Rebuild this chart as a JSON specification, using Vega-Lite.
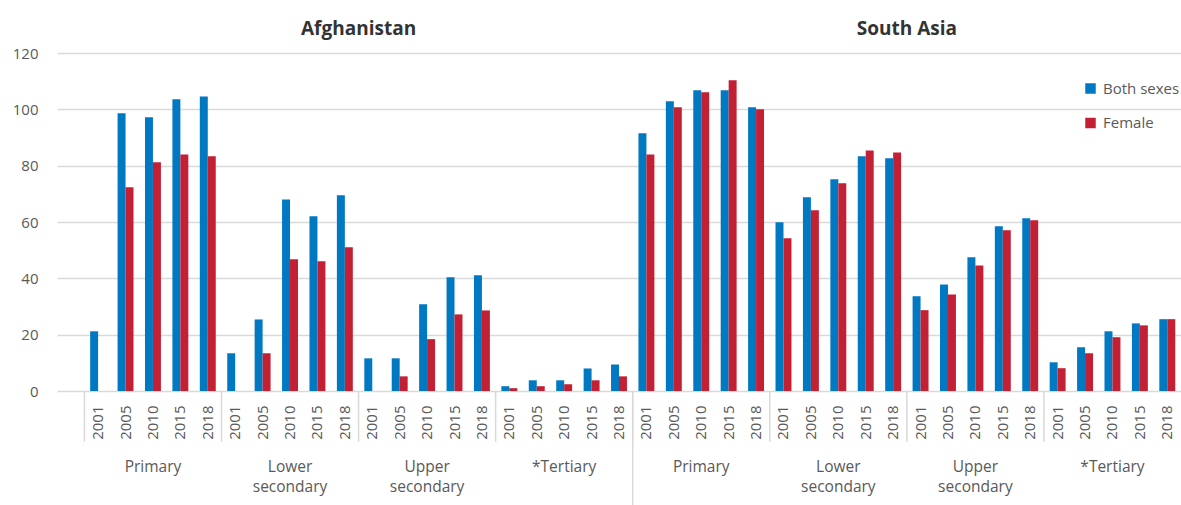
{
  "$schema": "https://vega.github.io/schema/vega-lite/v6.json",
  "width": 1124,
  "height": 338,
  "autosize": {"type": "none"},
  "padding": {"left": 57, "top": 53, "right": 0, "bottom": 114},
  "background": "white",
  "config": {"view": {"stroke": null}, "font": "Open Sans"},
  "datasets": {
    "bars": [
      {"cat": "Afghanistan|Primary|2001", "sex": "Both sexes", "value": 21.2},
      {"cat": "Afghanistan|Primary|2005", "sex": "Both sexes", "value": 98.6},
      {"cat": "Afghanistan|Primary|2005", "sex": "Female", "value": 72.3},
      {"cat": "Afghanistan|Primary|2010", "sex": "Both sexes", "value": 97.2},
      {"cat": "Afghanistan|Primary|2010", "sex": "Female", "value": 81.2},
      {"cat": "Afghanistan|Primary|2015", "sex": "Both sexes", "value": 103.6},
      {"cat": "Afghanistan|Primary|2015", "sex": "Female", "value": 84.0},
      {"cat": "Afghanistan|Primary|2018", "sex": "Both sexes", "value": 104.6},
      {"cat": "Afghanistan|Primary|2018", "sex": "Female", "value": 83.3},
      {"cat": "Afghanistan|Lower secondary|2001", "sex": "Both sexes", "value": 13.4},
      {"cat": "Afghanistan|Lower secondary|2005", "sex": "Both sexes", "value": 25.4},
      {"cat": "Afghanistan|Lower secondary|2005", "sex": "Female", "value": 13.4},
      {"cat": "Afghanistan|Lower secondary|2010", "sex": "Both sexes", "value": 68.0},
      {"cat": "Afghanistan|Lower secondary|2010", "sex": "Female", "value": 46.8},
      {"cat": "Afghanistan|Lower secondary|2015", "sex": "Both sexes", "value": 62.0},
      {"cat": "Afghanistan|Lower secondary|2015", "sex": "Female", "value": 46.1},
      {"cat": "Afghanistan|Lower secondary|2018", "sex": "Both sexes", "value": 69.5},
      {"cat": "Afghanistan|Lower secondary|2018", "sex": "Female", "value": 51.0},
      {"cat": "Afghanistan|Upper secondary|2001", "sex": "Both sexes", "value": 11.6},
      {"cat": "Afghanistan|Upper secondary|2005", "sex": "Both sexes", "value": 11.6},
      {"cat": "Afghanistan|Upper secondary|2005", "sex": "Female", "value": 5.2},
      {"cat": "Afghanistan|Upper secondary|2010", "sex": "Both sexes", "value": 30.8},
      {"cat": "Afghanistan|Upper secondary|2010", "sex": "Female", "value": 18.4},
      {"cat": "Afghanistan|Upper secondary|2015", "sex": "Both sexes", "value": 40.4},
      {"cat": "Afghanistan|Upper secondary|2015", "sex": "Female", "value": 27.2},
      {"cat": "Afghanistan|Upper secondary|2018", "sex": "Both sexes", "value": 41.1},
      {"cat": "Afghanistan|Upper secondary|2018", "sex": "Female", "value": 28.6},
      {"cat": "Afghanistan|*Tertiary|2001", "sex": "Both sexes", "value": 1.7},
      {"cat": "Afghanistan|*Tertiary|2001", "sex": "Female", "value": 1.0},
      {"cat": "Afghanistan|*Tertiary|2005", "sex": "Both sexes", "value": 3.8},
      {"cat": "Afghanistan|*Tertiary|2005", "sex": "Female", "value": 1.7},
      {"cat": "Afghanistan|*Tertiary|2010", "sex": "Both sexes", "value": 3.8},
      {"cat": "Afghanistan|*Tertiary|2010", "sex": "Female", "value": 2.4},
      {"cat": "Afghanistan|*Tertiary|2015", "sex": "Both sexes", "value": 8.0},
      {"cat": "Afghanistan|*Tertiary|2015", "sex": "Female", "value": 3.8},
      {"cat": "Afghanistan|*Tertiary|2018", "sex": "Both sexes", "value": 9.4},
      {"cat": "Afghanistan|*Tertiary|2018", "sex": "Female", "value": 5.2},
      {"cat": "South Asia|Primary|2001", "sex": "Both sexes", "value": 91.5},
      {"cat": "South Asia|Primary|2001", "sex": "Female", "value": 84.0},
      {"cat": "South Asia|Primary|2005", "sex": "Both sexes", "value": 102.9},
      {"cat": "South Asia|Primary|2005", "sex": "Female", "value": 100.7},
      {"cat": "South Asia|Primary|2010", "sex": "Both sexes", "value": 106.8},
      {"cat": "South Asia|Primary|2010", "sex": "Female", "value": 106.1},
      {"cat": "South Asia|Primary|2015", "sex": "Both sexes", "value": 106.8},
      {"cat": "South Asia|Primary|2015", "sex": "Female", "value": 110.3},
      {"cat": "South Asia|Primary|2018", "sex": "Both sexes", "value": 100.7},
      {"cat": "South Asia|Primary|2018", "sex": "Female", "value": 100.0},
      {"cat": "South Asia|Lower secondary|2001", "sex": "Both sexes", "value": 59.9},
      {"cat": "South Asia|Lower secondary|2001", "sex": "Female", "value": 54.2},
      {"cat": "South Asia|Lower secondary|2005", "sex": "Both sexes", "value": 68.8},
      {"cat": "South Asia|Lower secondary|2005", "sex": "Female", "value": 64.2},
      {"cat": "South Asia|Lower secondary|2010", "sex": "Both sexes", "value": 75.2},
      {"cat": "South Asia|Lower secondary|2010", "sex": "Female", "value": 73.8},
      {"cat": "South Asia|Lower secondary|2015", "sex": "Both sexes", "value": 83.3},
      {"cat": "South Asia|Lower secondary|2015", "sex": "Female", "value": 85.4},
      {"cat": "South Asia|Lower secondary|2018", "sex": "Both sexes", "value": 82.6},
      {"cat": "South Asia|Lower secondary|2018", "sex": "Female", "value": 84.7},
      {"cat": "South Asia|Upper secondary|2001", "sex": "Both sexes", "value": 33.6},
      {"cat": "South Asia|Upper secondary|2001", "sex": "Female", "value": 28.7},
      {"cat": "South Asia|Upper secondary|2005", "sex": "Both sexes", "value": 37.8},
      {"cat": "South Asia|Upper secondary|2005", "sex": "Female", "value": 34.3},
      {"cat": "South Asia|Upper secondary|2010", "sex": "Both sexes", "value": 47.5},
      {"cat": "South Asia|Upper secondary|2010", "sex": "Female", "value": 44.6},
      {"cat": "South Asia|Upper secondary|2015", "sex": "Both sexes", "value": 58.5},
      {"cat": "South Asia|Upper secondary|2015", "sex": "Female", "value": 57.1},
      {"cat": "South Asia|Upper secondary|2018", "sex": "Both sexes", "value": 61.3},
      {"cat": "South Asia|Upper secondary|2018", "sex": "Female", "value": 60.6},
      {"cat": "South Asia|*Tertiary|2001", "sex": "Both sexes", "value": 10.2},
      {"cat": "South Asia|*Tertiary|2001", "sex": "Female", "value": 8.1},
      {"cat": "South Asia|*Tertiary|2005", "sex": "Both sexes", "value": 15.5},
      {"cat": "South Asia|*Tertiary|2005", "sex": "Female", "value": 13.4},
      {"cat": "South Asia|*Tertiary|2010", "sex": "Both sexes", "value": 21.2},
      {"cat": "South Asia|*Tertiary|2010", "sex": "Female", "value": 19.1},
      {"cat": "South Asia|*Tertiary|2015", "sex": "Both sexes", "value": 24.0},
      {"cat": "South Asia|*Tertiary|2015", "sex": "Female", "value": 23.3},
      {"cat": "South Asia|*Tertiary|2018", "sex": "Both sexes", "value": 25.5},
      {"cat": "South Asia|*Tertiary|2018", "sex": "Female", "value": 25.5}
    ],
    "groups": [
      {"line1": "Primary", "line2": "", "first": "Afghanistan|Primary|2001", "mid": "Afghanistan|Primary|2010"},
      {"line1": "Lower", "line2": "secondary", "first": "Afghanistan|Lower secondary|2001", "mid": "Afghanistan|Lower secondary|2010"},
      {"line1": "Upper", "line2": "secondary", "first": "Afghanistan|Upper secondary|2001", "mid": "Afghanistan|Upper secondary|2010"},
      {"line1": "*Tertiary", "line2": "", "first": "Afghanistan|*Tertiary|2001", "mid": "Afghanistan|*Tertiary|2010"},
      {"line1": "Primary", "line2": "", "first": "South Asia|Primary|2001", "mid": "South Asia|Primary|2010"},
      {"line1": "Lower", "line2": "secondary", "first": "South Asia|Lower secondary|2001", "mid": "South Asia|Lower secondary|2010"},
      {"line1": "Upper", "line2": "secondary", "first": "South Asia|Upper secondary|2001", "mid": "South Asia|Upper secondary|2010"},
      {"line1": "*Tertiary", "line2": "", "first": "South Asia|*Tertiary|2001", "mid": "South Asia|*Tertiary|2010"}
    ],
    "countries": [
      {"country": "Afghanistan", "anchor": "Afghanistan|Lower secondary|2018"},
      {"country": "South Asia", "anchor": "South Asia|Lower secondary|2018"}
    ],
    "dividers": [
      {"first": "South Asia|Primary|2001"}
    ]
  },
  "layer": [
    {
      "data": {"name": "bars"},
      "mark": {"type": "bar"},
      "encoding": {
        "x": {
          "field": "cat",
          "type": "nominal",
          "scale": {
            "domain": [
              "Afghanistan|Primary|2001", "Afghanistan|Primary|2005", "Afghanistan|Primary|2010", "Afghanistan|Primary|2015", "Afghanistan|Primary|2018",
              "Afghanistan|Lower secondary|2001", "Afghanistan|Lower secondary|2005", "Afghanistan|Lower secondary|2010", "Afghanistan|Lower secondary|2015", "Afghanistan|Lower secondary|2018",
              "Afghanistan|Upper secondary|2001", "Afghanistan|Upper secondary|2005", "Afghanistan|Upper secondary|2010", "Afghanistan|Upper secondary|2015", "Afghanistan|Upper secondary|2018",
              "Afghanistan|*Tertiary|2001", "Afghanistan|*Tertiary|2005", "Afghanistan|*Tertiary|2010", "Afghanistan|*Tertiary|2015", "Afghanistan|*Tertiary|2018",
              "South Asia|Primary|2001", "South Asia|Primary|2005", "South Asia|Primary|2010", "South Asia|Primary|2015", "South Asia|Primary|2018",
              "South Asia|Lower secondary|2001", "South Asia|Lower secondary|2005", "South Asia|Lower secondary|2010", "South Asia|Lower secondary|2015", "South Asia|Lower secondary|2018",
              "South Asia|Upper secondary|2001", "South Asia|Upper secondary|2005", "South Asia|Upper secondary|2010", "South Asia|Upper secondary|2015", "South Asia|Upper secondary|2018",
              "South Asia|*Tertiary|2001", "South Asia|*Tertiary|2005", "South Asia|*Tertiary|2010", "South Asia|*Tertiary|2015", "South Asia|*Tertiary|2018"
            ],
            "paddingInner": 0,
            "paddingOuter": 0.5,
            "align": 1
          },
          "axis": {
            "title": null,
            "labelAngle": 270,
            "labelExpr": "split(datum.label, '|')[2]",
            "labelFont": "Open Sans",
            "labelFontSize": 15,
            "labelColor": "#595959",
            "labelPadding": 14,
            "labelOverlap": false,
            "ticks": false,
            "domain": false,
            "grid": false
          }
        },
        "xOffset": {
          "field": "sex",
          "type": "nominal",
          "scale": {"domain": ["Both sexes", "Female"], "paddingInner": 0, "paddingOuter": 0.72}
        },
        "y": {
          "field": "value",
          "type": "quantitative",
          "scale": {"domain": [0, 120], "nice": false},
          "axis": {
            "title": null,
            "values": [0, 20, 40, 60, 80, 100, 120],
            "domain": false,
            "ticks": false,
            "grid": true,
            "gridColor": "#d9d9d9",
            "gridWidth": 1.5,
            "labelPadding": 19,
            "labelFont": "Open Sans",
            "labelFontSize": 15,
            "labelColor": "#595959"
          }
        },
        "color": {
          "field": "sex",
          "type": "nominal",
          "scale": {"domain": ["Both sexes", "Female"], "range": ["#0079c2", "#c32034"]},
          "legend": {
            "title": null,
            "orient": "none",
            "legendX": 1026,
            "legendY": 28,
            "padding": 0,
            "symbolType": "square",
            "symbolSize": 110,
            "symbolStrokeWidth": 0,
            "labelFont": "Open Sans",
            "labelFontSize": 15,
            "labelColor": "#595959",
            "labelOffset": 5,
            "rowPadding": 18.5
          }
        }
      }
    },
    {
      "data": {"name": "groups"},
      "mark": {"type": "rule", "color": "#d9d9d9", "strokeWidth": 1.5},
      "encoding": {
        "x": {"field": "first", "type": "nominal", "bandPosition": 0},
        "y": {"datum": 0},
        "y2": {"datum": -18}
      }
    },
    {
      "data": {"name": "dividers"},
      "mark": {"type": "rule", "color": "#d9d9d9", "strokeWidth": 1.5},
      "encoding": {
        "x": {"field": "first", "type": "nominal", "bandPosition": 0},
        "y": {"datum": 0},
        "y2": {"datum": -41}
      }
    },
    {
      "data": {"name": "groups"},
      "mark": {"type": "text", "baseline": "alphabetic", "align": "center", "font": "Open Sans", "fontSize": 15.5, "color": "#595959"},
      "encoding": {
        "x": {"field": "mid", "type": "nominal"},
        "y": {"datum": -28.6},
        "text": {"field": "line1"}
      }
    },
    {
      "data": {"name": "groups"},
      "mark": {"type": "text", "baseline": "alphabetic", "align": "center", "font": "Open Sans", "fontSize": 15.5, "color": "#595959"},
      "encoding": {
        "x": {"field": "mid", "type": "nominal"},
        "y": {"datum": -35.7},
        "text": {"field": "line2"}
      }
    },
    {
      "data": {"name": "countries"},
      "mark": {"type": "text", "baseline": "alphabetic", "align": "center", "font": "Open Sans", "fontSize": 19, "fontWeight": "bold", "color": "#333333"},
      "encoding": {
        "x": {"field": "anchor", "type": "nominal", "bandPosition": 1},
        "y": {"datum": 126.4},
        "text": {"field": "country"}
      }
    }
  ]
}
